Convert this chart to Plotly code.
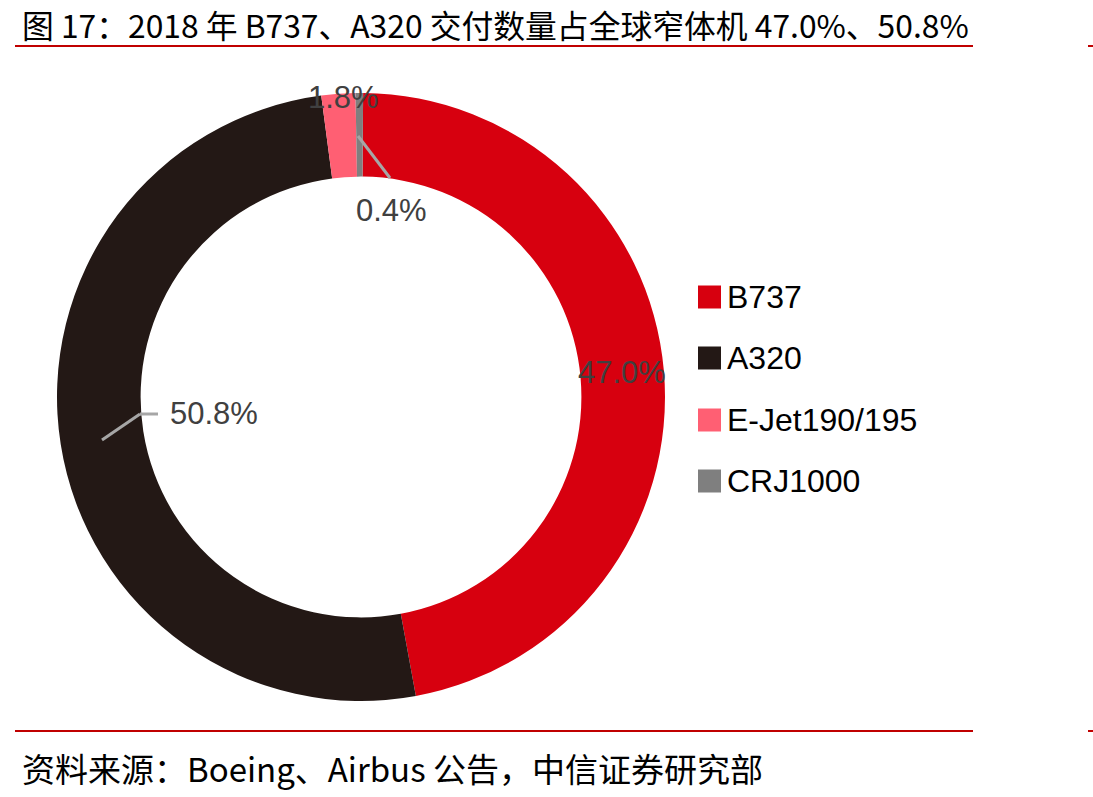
import plotly.graph_objects as go

W, H = 1093, 797

categories = ["B737", "A320", "E-Jet190/195", "CRJ1000"]
shares = [47.0, 50.8, 1.8, 0.4]
colors = ["#D7000F", "#231815", "#FF5F73", "#7F7F7F"]

title_text = "图 17：2018 年 B737、A320 交付数量占全球窄体机 47.0%、50.8%"
source_text = "资料来源：Boeing、Airbus 公告，中信证券研究部"


def px(x):
    return x / W


def py(y):
    return 1 - y / H


cx, cy, r = 361, 397, 304

fig = go.Figure()
fig.add_trace(go.Pie(
    labels=categories,
    values=shares,
    marker=dict(colors=colors, line=dict(width=0)),
    hole=0.725,
    sort=False,
    direction="clockwise",
    rotation=0.4,
    textinfo="none",
    hoverinfo="label+percent",
    showlegend=False,
    domain=dict(x=[px(cx - r), px(cx + r)], y=[py(cy + r), py(cy - r)]),
))

annotations = []
shapes = []

# data labels
label_pos = [(622, 373), (214, 414), (343, 98), (391, 211)]
for v, (lx, ly) in zip(shares, label_pos):
    annotations.append(dict(
        x=px(lx), y=py(ly), xref="paper", yref="paper",
        text=f"{v:.1f}%", showarrow=False,
        font=dict(family="Liberation Sans, Arial", size=31, color="#404040"),
        xanchor="center", yanchor="middle",
    ))

# leader lines
lc = "#A6A6A6"
for (x0, y0, x1, y1) in [(102, 440, 140, 414), (140, 414, 158, 414), (358, 136, 390, 178)]:
    shapes.append(dict(type="line", xref="paper", yref="paper",
                       x0=px(x0), y0=py(y0), x1=px(x1), y1=py(y1),
                       line=dict(color=lc, width=3)))

# manual legend
leg_y = [297, 358, 420, 481]
for name, col, ly in zip(categories, colors, leg_y):
    shapes.append(dict(type="rect", xref="paper", yref="paper",
                       x0=px(698), x1=px(721), y0=py(ly + 11.5), y1=py(ly - 11.5),
                       fillcolor=col, line=dict(width=0)))
    annotations.append(dict(
        x=px(725), y=py(ly), xref="paper", yref="paper",
        text=name, showarrow=False,
        font=dict(family="Liberation Sans, Arial", size=32, color="#000000"),
        xanchor="left", yanchor="middle",
    ))

# title and source
annotations.append(dict(
    x=px(20), y=py(24), xref="paper", yref="paper", text=title_text, showarrow=False,
    font=dict(family="Noto Sans CJK SC", size=31.8, color="#000000"),
    xanchor="left", yanchor="middle",
))
annotations.append(dict(
    x=px(20), y=py(768), xref="paper", yref="paper", text=source_text, showarrow=False,
    font=dict(family="Noto Sans CJK SC", size=33, color="#000000"),
    xanchor="left", yanchor="middle",
))

# red rules
rule = "#C00000"
for yy in (46, 731):
    shapes.append(dict(type="line", xref="paper", yref="paper",
                       x0=px(15), x1=px(973), y0=py(yy), y1=py(yy),
                       line=dict(color=rule, width=2)))
    shapes.append(dict(type="line", xref="paper", yref="paper",
                       x0=px(1088), x1=px(1093), y0=py(yy), y1=py(yy),
                       line=dict(color=rule, width=2)))

fig.update_layout(
    width=W, height=H,
    margin=dict(l=0, r=0, t=0, b=0),
    paper_bgcolor="#FFFFFF",
    plot_bgcolor="#FFFFFF",
    annotations=annotations,
    shapes=shapes,
    showlegend=False,
)

fig.write_html("out.html")
